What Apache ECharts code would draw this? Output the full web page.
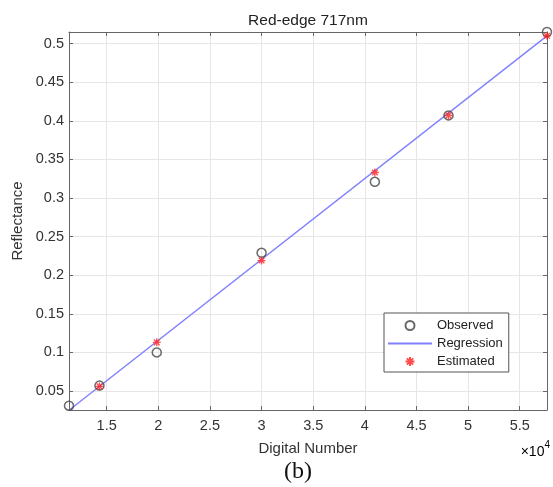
<!DOCTYPE html>
<html>
<head>
<meta charset="utf-8">
<script src="https://cdn.jsdelivr.net/npm/echarts@6/dist/echarts.min.js"></script>
<style>
  html, body { margin: 0; padding: 0; background: #fff; }
  #main { width: 553px; height: 487px; }
</style>
</head>
<body>
<div id="main"></div>
<script>
	// digital number (raw) and reflectance
	var obsX = [11350, 14300, 19850, 30000, 40970, 48100, 57640];
	var obsY = [0.031, 0.057, 0.100, 0.229, 0.321, 0.407, 0.515];
	var estY = [0.025, 0.056, 0.113, 0.219, 0.333, 0.407, 0.510];
	var regX = [11350, 57640];
	var regY = [0.025, 0.510];
	var xTicks = [15000, 20000, 25000, 30000, 35000, 40000, 45000, 50000, 55000];
	var yTicks = [0.05, 0.1, 0.15, 0.2, 0.25, 0.3, 0.35, 0.4, 0.45, 0.5];

	var xMin = 11350, xMax = 57640, yMin = 0.0254, yMax = 0.515;
	var starPath = 'path://M5,0L5,10M0,5L10,5M1.5,1.5L8.5,8.5M1.5,8.5L8.5,1.5';

	var chart = echarts.init(document.getElementById('main'));

	function zip(xs, ys) {
		var out = [];
		for (var i = 0; i < xs.length; i++) out.push([xs[i], ys[i]]);
		return out;
	}

	var axisLine = { show: true, lineStyle: { color: '#666', width: 1 } };
	var labelFont = { color: '#333', fontSize: 14.5, fontFamily: 'Liberation Sans, Arial, sans-serif' };

	chart.setOption({
		animation: false,
		title: {
			text: 'Red-edge 717nm',
			left: 303,
			top: 8,
			textAlign: 'center',
			textStyle: { color: '#222', fontSize: 15.5, fontWeight: 'normal', fontFamily: 'Liberation Sans, Arial, sans-serif' }
		},
		grid: { left: 69, right: 6, top: 32, bottom: 77 },
		legend: {
			orient: 'vertical',
			left: 384,
			top: 313,
			padding: [6, 6, 4, 3],
			itemWidth: 44,
			itemHeight: 9,
			itemGap: 5,
			borderColor: '#555',
			borderWidth: 1,
			backgroundColor: '#fff',
			textStyle: { color: '#222', fontSize: 13, fontFamily: 'Liberation Sans, Arial, sans-serif' },
			data: [
				'Observed',
				{ name: 'Regression', itemStyle: { color: 'rgba(0,0,0,0)', borderColor: 'rgba(0,0,0,0)', borderWidth: 0 } },
				'Estimated'
			]
		},
		xAxis: [{
			type: 'value',
			min: xMin,
			max: xMax,
			name: 'Digital Number',
			nameLocation: 'middle',
			nameGap: 31,
			nameTextStyle: { color: '#333', fontSize: 15, fontFamily: 'Liberation Sans, Arial, sans-serif' },
			axisLine: axisLine,
			axisTick: { show: true, inside: true, length: 4, customValues: xTicks, lineStyle: { color: '#666' } },
			axisLabel: Object.assign({ margin: 8, customValues: xTicks, formatter: function (v) { return String(v / 10000); } }, labelFont),
			splitLine: { show: true, lineStyle: { color: '#e6e6e6', width: 1 } }
		}, {
			type: 'value',
			position: 'top',
			min: xMin,
			max: xMax,
			axisLine: axisLine,
			axisTick: { show: true, inside: true, length: 4, customValues: xTicks, lineStyle: { color: '#666' } },
			axisLabel: { show: false },
			splitLine: { show: false }
		}],
		yAxis: [{
			type: 'value',
			min: yMin,
			max: yMax,
			name: 'Reflectance',
			nameLocation: 'middle',
			nameGap: 38,
			nameTextStyle: { color: '#333', fontSize: 15, fontFamily: 'Liberation Sans, Arial, sans-serif' },
			axisLine: axisLine,
			axisTick: { show: true, inside: true, length: 4, customValues: yTicks, lineStyle: { color: '#666' } },
			axisLabel: Object.assign({ margin: 5, customValues: yTicks, formatter: function (v) { return String(+v.toFixed(2)); } }, labelFont),
			splitLine: { show: true, lineStyle: { color: '#e6e6e6', width: 1 } }
		}, {
			type: 'value',
			position: 'right',
			min: yMin,
			max: yMax,
			axisLine: axisLine,
			axisTick: { show: true, inside: true, length: 4, customValues: yTicks, lineStyle: { color: '#666' } },
			axisLabel: { show: false },
			splitLine: { show: false }
		}],
		series: [{
			name: 'Observed',
			type: 'scatter',
			symbol: 'circle',
			symbolSize: 9,
			itemStyle: { color: 'rgba(0,0,0,0)', borderColor: '#444', borderWidth: 1.5 },
			data: zip(obsX, obsY),
			z: 3
		}, {
			name: 'Regression',
			type: 'line',
			symbol: 'none',
			lineStyle: { color: '#8080ff', width: 1.4 },
			itemStyle: { color: '#8080ff' },
			data: zip(regX, regY),
			z: 2
		}, {
			name: 'Estimated',
			type: 'scatter',
			symbol: starPath,
			symbolSize: 8,
			itemStyle: { color: '#ff2020', borderColor: '#ff2020', borderWidth: 1.3 },
			data: zip(obsX, estY),
			z: 4
		}],
		graphic: [{
			type: 'text',
			right: 3,
			top: 440,
			style: {
				text: '{a|×10}{b|4}',
				rich: {
					a: { fontSize: 14, color: '#333', fontFamily: 'Liberation Sans, Arial, sans-serif', verticalAlign: 'bottom' },
					b: { fontSize: 10, color: '#333', fontFamily: 'Liberation Sans, Arial, sans-serif', verticalAlign: 'top', padding: [0, 0, 9, 0] }
				}
			}
		}, {
			type: 'text',
			left: 284,
			top: 460,
			style: { text: '(b)', fontSize: 24, fill: '#111', fontFamily: 'Liberation Serif, Times New Roman, serif' }
		}]
	});
</script>
</body>
</html>
